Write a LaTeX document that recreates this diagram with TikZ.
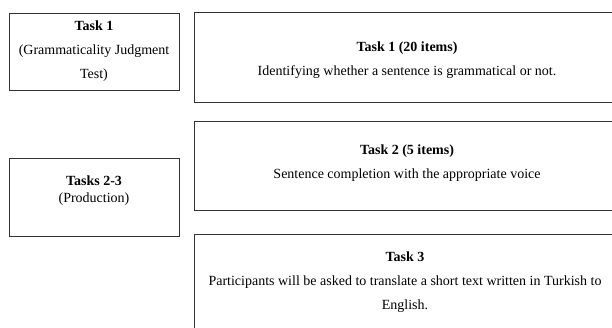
\documentclass[tikz,border=0pt]{standalone}
\usepackage{fontspec}
\setmainfont{Liberation Serif}
\usetikzlibrary{positioning}

\tikzset{
  taskbox/.style={draw=black!80, line width=0.8pt, inner sep=0pt},
  tasktext/.style={align=center, inner sep=0pt, font=\fontsize{14pt}{24pt}\selectfont},
}

\begin{document}
\begin{tikzpicture}[x=1pt,y=1pt]
      \useasboundingbox (0,0) rectangle (612,-327);
      \clip (0,0) rectangle (612,-327);

      % left column
      \node[taskbox, minimum width=170pt, minimum height=77pt] (gjtbox) at (94,-51.5) {};
      \node[tasktext] (gjt) at (gjtbox.center) {\textbf{Task 1}\\(Grammaticality Judgment\\Test)};

      \node[taskbox, minimum width=170pt, minimum height=78pt] (prodbox) at (94,-197) {};
      \node[tasktext, font=\fontsize{14pt}{17pt}\selectfont] (prod) at ([yshift=6.5pt]prodbox.center) {\textbf{Tasks 2-3}\\(Production)};

      % right column
      \node[taskbox, minimum width=426pt, minimum height=90pt] (onebox) at (407,-57) {};
      \node[tasktext] (one) at ([yshift=-3pt]onebox.center) {\textbf{Task 1 (20 items)}\\Identifying whether a sentence is grammatical or not.};

      \node[taskbox, minimum width=426pt, minimum height=89pt] (twobox) at (407,-165.5) {};
      \node[tasktext] (two) at ([yshift=2pt]twobox.center) {\textbf{Task 2 (5 items)}\\Sentence completion with the appropriate voice};

      \node[taskbox, minimum width=426pt, minimum height=96pt] (threebox) at (407,-282) {};
      \node[tasktext] (three) at ([xshift=-2pt]threebox.center) {\textbf{Task 3}\\Participants will be asked to translate a short text written in Turkish to\\English.};
\end{tikzpicture}
\end{document}
